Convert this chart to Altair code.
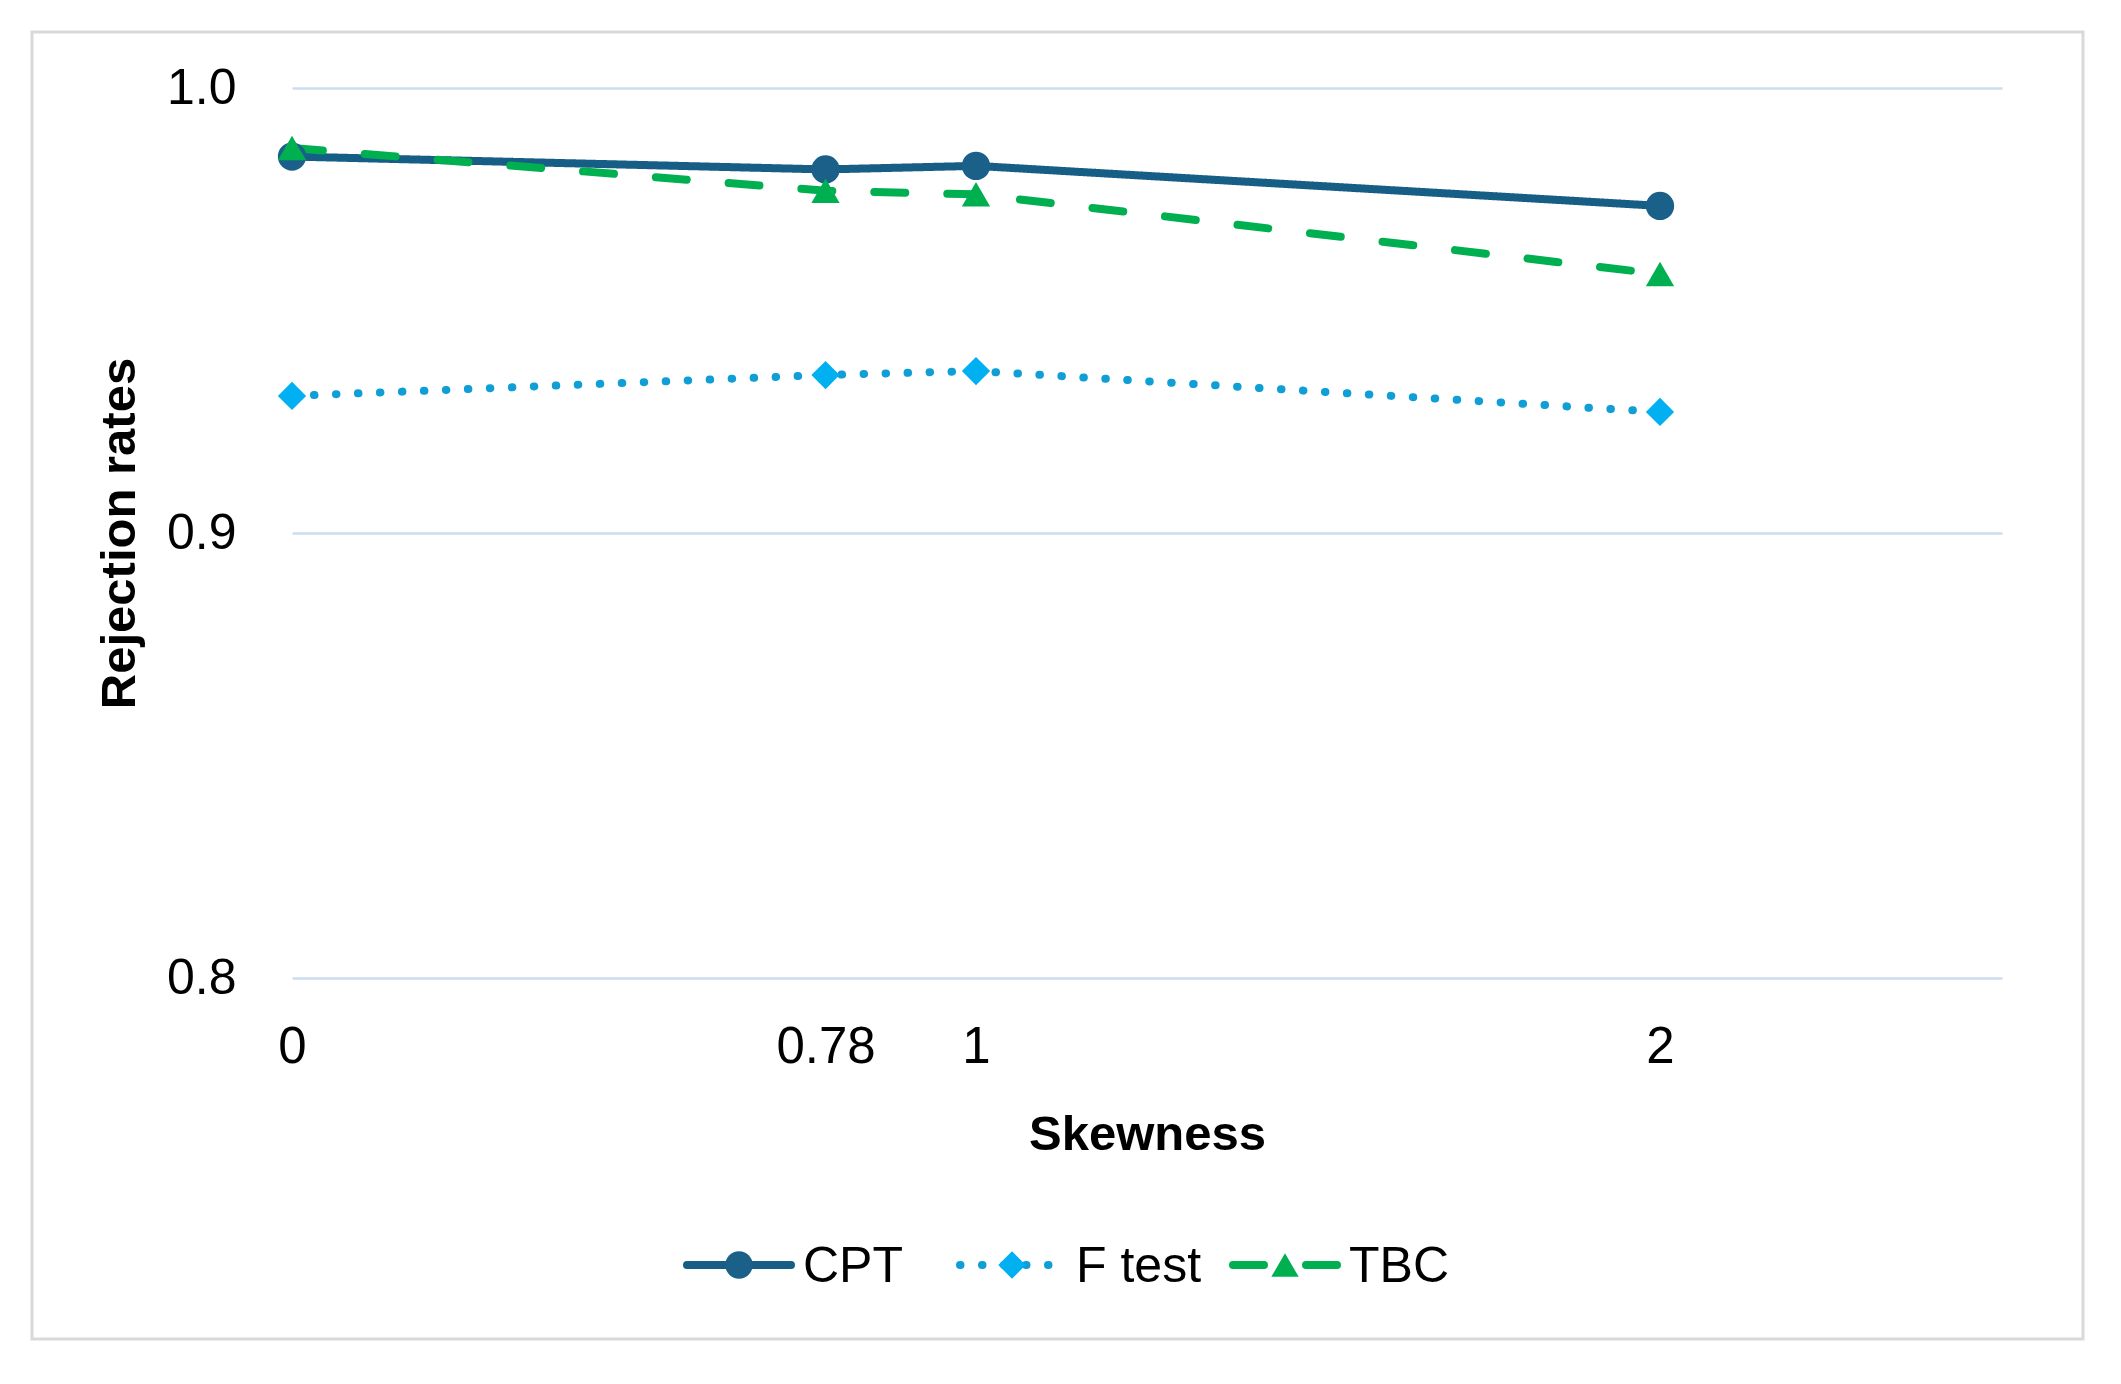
import altair as alt
import pandas as pd

# ---- data ----
skewness = [0, 0.78, 1, 2]
series = ["CPT", "F test", "TBC"]
cpt = [0.9846, 0.9817, 0.9825, 0.9735]
f_test = [0.9308, 0.9355, 0.9364, 0.9272]
tbc = [0.9865, 0.9769, 0.9761, 0.9582]
y_ticks = [0.8, 0.9, 1.0]

line_colors = ["#175E86", "#0F9ED5", "#00B050"]
marker_colors = ["#1B6089", "#00B0F0", "#00B050"]
dashes = [[1, 0], [0.5, 21.5], [31, 42]]
shapes = ["circle", "diamond", "triangle-up"]

rows = []
for name, vals in zip(series, [cpt, f_test, tbc]):
    for s, v in zip(skewness, vals):
        rows.append({"series": name, "skew": s, "rate": v})
df = pd.DataFrame(rows)
leg_df = pd.DataFrame({"series": series})

FONT = "Liberation Sans"
W, H = 1710, 890

xscale = alt.Scale(domain=[0, 2.5], nice=False, zero=False)
yscale = alt.Scale(domain=[0.8, 1.0], nice=False, zero=False)
color_scale = alt.Scale(domain=series, range=line_colors)
fill_scale = alt.Scale(domain=series, range=marker_colors)
dash_scale = alt.Scale(domain=series, range=dashes)
shape_scale = alt.Scale(domain=series, range=shapes)
leg_x = alt.Scale(type="point", domain=series, range=[447, 993], padding=0)

y_axis = alt.Axis(
    values=y_ticks,
    format=".1f",
    title="Rejection rates",
    grid=True,
    gridColor="#CCDDF0",
    gridWidth=2.5,
    domain=False,
    ticks=False,
    tickSize=0,
    labelPadding=56,
    labelFontSize=50,
    labelFont=FONT,
    labelColor="#000000",
    titleFont=FONT,
    titleFontSize=49,
    titleFontWeight="bold",
    titleColor="#000000",
    titleX=-173,
    titleY=445,
    titleBaseline="middle",
    titleAlign="center",
)

x_axis = alt.Axis(
    values=skewness,
    labelExpr="datum.value",
    title="Skewness",
    grid=False,
    domain=False,
    ticks=False,
    tickSize=0,
    labelFlush=False,
    labelPadding=44,
    labelBaseline="top",
    labelFontSize=51,
    labelFont=FONT,
    labelColor="#000000",
    titleFont=FONT,
    titleFontSize=49,
    titleFontWeight="bold",
    titleColor="#000000",
    titleBaseline="alphabetic",
    titleY=171,
)

border = alt.Chart(alt.Data(values=[{"k": 1}])).mark_rect(
    fill="transparent", stroke="#D9D9D9", strokeWidth=3
).encode(
    x=alt.value(-260), x2=alt.value(1791), y=alt.value(-56), y2=alt.value(1251)
)

base = alt.Chart(df)

lines = base.mark_line(strokeWidth=8, strokeCap="round").encode(
    x=alt.X("skew:Q", scale=xscale, axis=x_axis),
    y=alt.Y("rate:Q", scale=yscale, axis=y_axis),
    color=alt.Color("series:N", scale=color_scale, legend=None),
    strokeDash=alt.StrokeDash("series:N", scale=dash_scale, legend=None),
)

points = base.mark_point(filled=True, size=800, opacity=1, strokeWidth=0).encode(
    x=alt.X("skew:Q", scale=xscale, axis=None),
    y=alt.Y("rate:Q", scale=yscale, axis=y_axis),
    fill=alt.Fill("series:N", scale=fill_scale, legend=None),
    shape=alt.Shape("series:N", scale=shape_scale, legend=None),
)

LEG_Y = 1177
leg_base = alt.Chart(leg_df)
leg_lines = leg_base.mark_rule(strokeWidth=8, strokeCap="round", xOffset=-52, x2Offset=52).encode(
    x=alt.X("series:N", scale=leg_x, axis=None),
    x2="series:N",
    y=alt.value(LEG_Y),
    color=alt.Color("series:N", scale=color_scale, legend=None),
    strokeDash=alt.StrokeDash("series:N", scale=dash_scale, legend=None),
)
leg_points = leg_base.mark_point(filled=True, size=750, opacity=1, strokeWidth=0).encode(
    x=alt.X("series:N", scale=leg_x, axis=None),
    y=alt.value(LEG_Y),
    fill=alt.Fill("series:N", scale=fill_scale, legend=None),
    shape=alt.Shape("series:N", scale=shape_scale, legend=None),
)
leg_text = leg_base.mark_text(
    align="left", baseline="middle", dx=64, fontSize=50, font=FONT, color="#000000"
).encode(
    x=alt.X("series:N", scale=leg_x, axis=None),
    y=alt.value(LEG_Y + 2),
    text="series:N",
)

chart = (
    alt.layer(border, lines, points, leg_lines, leg_points, leg_text)
    .resolve_scale(x="independent")
    .properties(
        width=W,
        height=H,
        autosize=alt.AutoSizeParams(type="none"),
        padding={"left": 284, "top": 80, "right": 111, "bottom": 398},
        background="#FFFFFF",
    )
    .configure_view(strokeWidth=0)
)

chart.save("out.html", embed_options={"renderer": "svg", "actions": False})
